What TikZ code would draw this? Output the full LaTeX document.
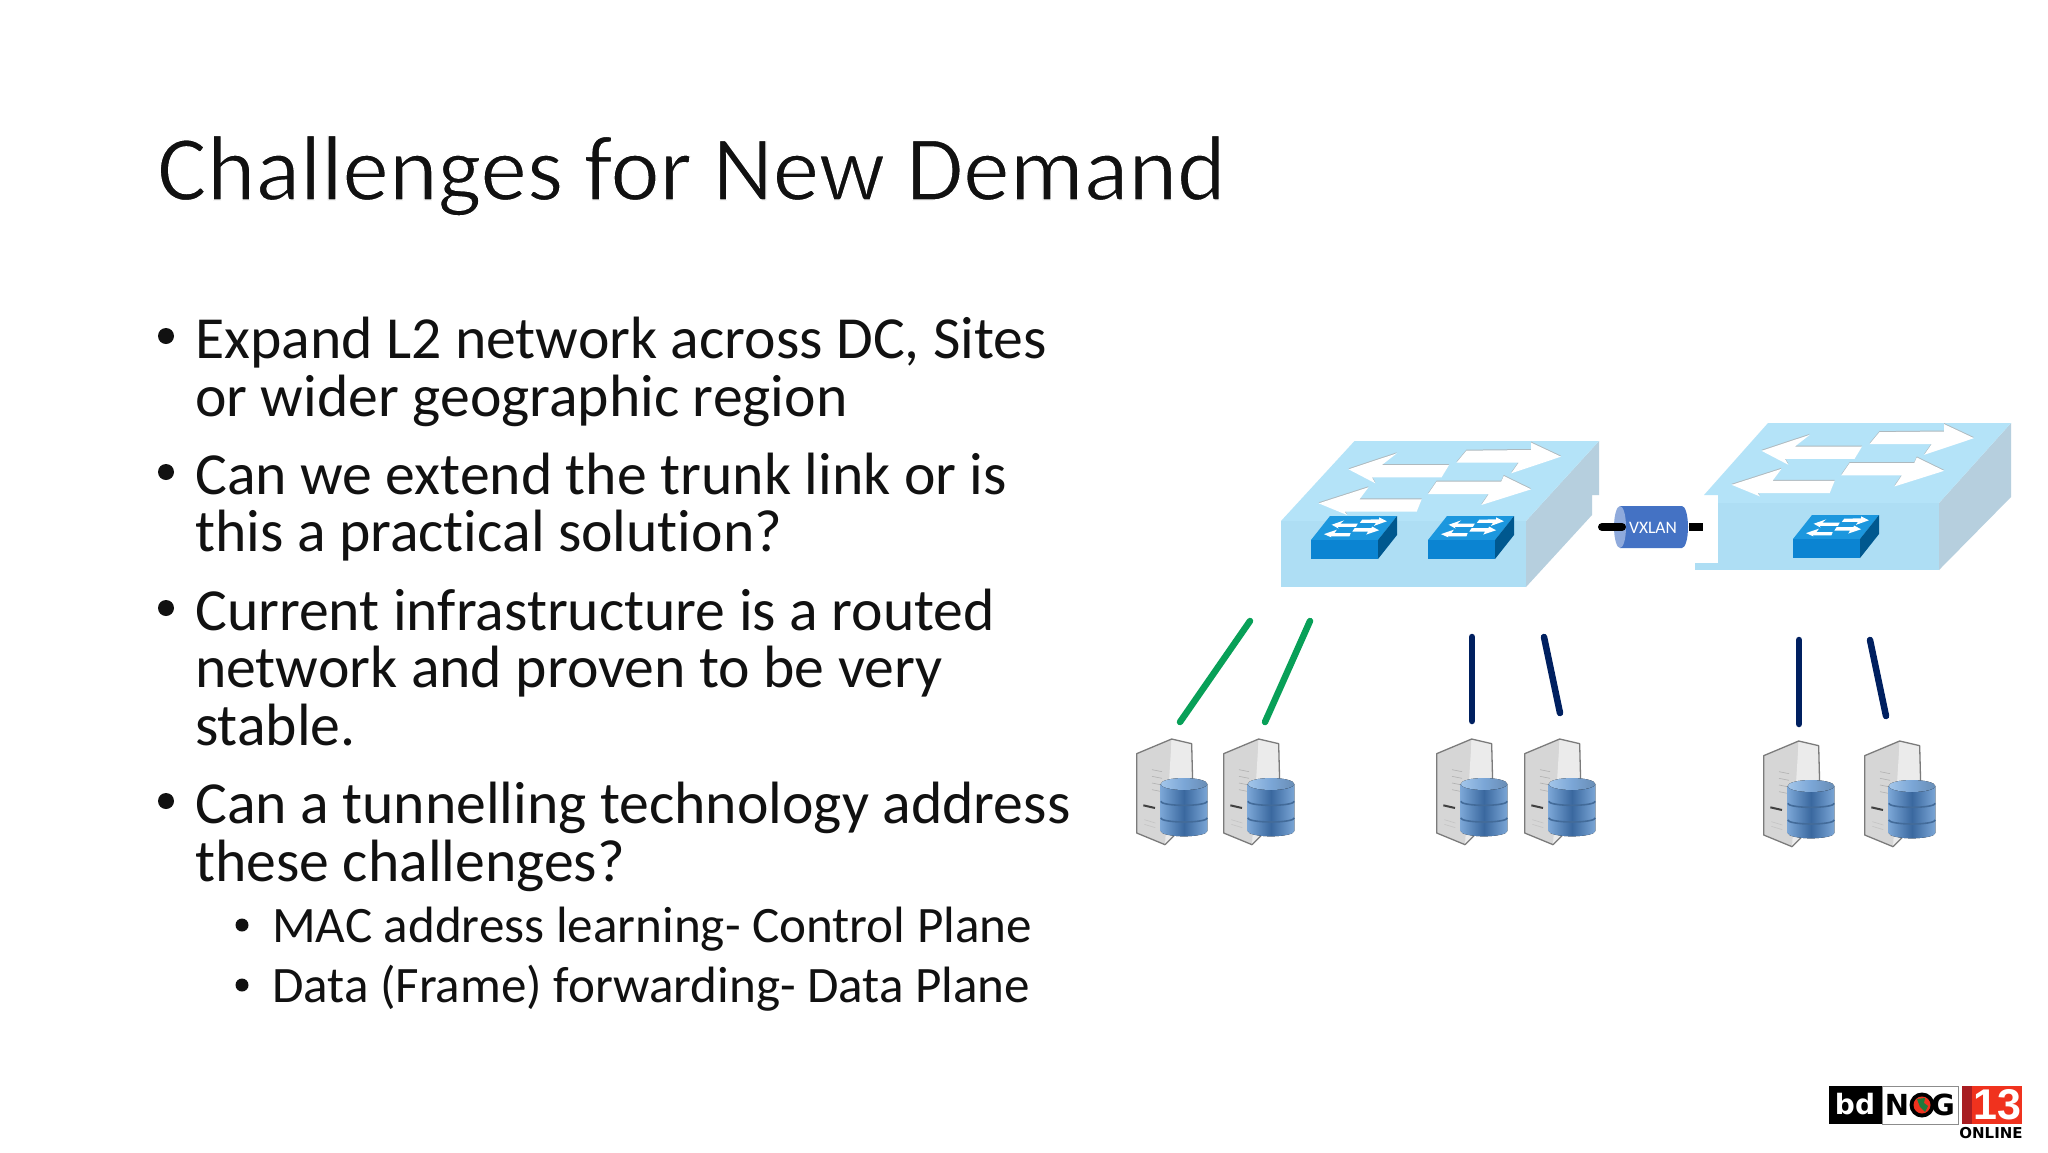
\documentclass[tikz,border=0pt]{standalone}
\usepackage{fontspec}
\setmainfont{Carlito}[RawFeature={-liga}]
\newfontfamily\logofont{DejaVu Sans}
\newfontfamily\numfont{Liberation Sans}
\usetikzlibrary{calc}
\definecolor{swtop}{HTML}{B4E3F8}
\definecolor{swfront}{HTML}{AEDEF4}
\definecolor{swside}{HTML}{B6CFDE}
\definecolor{arrowedge}{HTML}{AEB9BE}
\definecolor{minifront}{HTML}{0B84D2}
\definecolor{minitop}{HTML}{1C97DE}
\definecolor{miniside}{HTML}{00588F}
\definecolor{linkgreen}{HTML}{08A058}
\definecolor{linknavy}{HTML}{002060}
\definecolor{tunnel}{HTML}{4472C4}
\definecolor{tunnelend}{HTML}{8FAADC}
\definecolor{dbdark}{HTML}{3A689F}
\definecolor{dbmid}{HTML}{7BA6D6}
\definecolor{dblight}{HTML}{A3C6EA}
\definecolor{dbline}{HTML}{2E5A8E}
\definecolor{srvedge}{HTML}{7B7B7B}
\definecolor{srvfront}{HTML}{D6D6D6}
\definecolor{srvside}{HTML}{EBEBEB}
\definecolor{logored}{HTML}{F0321E}
\definecolor{logodark}{HTML}{A81E22}
\definecolor{logogreen}{HTML}{1E7A3C}
\definecolor{txt}{HTML}{111111}
\tikzset{
  line/.style={inner sep=0pt,anchor=base west,text=txt,font=\fontsize{59.7}{60}\selectfont},
  subline/.style={inner sep=0pt,anchor=base west,text=txt,font=\fontsize{51.1}{52}\selectfont},
  bul/.style={fill=txt,circle,inner sep=0pt,minimum size=16pt},
  subbul/.style={fill=txt,circle,inner sep=0pt,minimum size=13pt},
  link/.style={line width=6.5pt,line cap=round},
  server/.pic={
    \begin{scope}[x=0.3333pt,y=-0.3333pt]
      \fill[srvfront] (2,44) -- (107,0) -- (100,300) -- (87,317) -- (2,282) -- cycle;
      \fill[srvside] (107,0) -- (167,14) -- (170,180) -- (117,287) -- (87,317) -- cycle;
      \foreach \yy in {92,112,132,152}{\draw[srvedge!60,line width=.6pt] ({48},{\yy}) -- ({78},{\yy+6});}
      \draw[black!75,line width=2pt] (22,199) -- (57,207);
      \foreach \yy in {242,256}{\draw[srvedge!45,line width=.6pt] ({25},{\yy}) -- ({58},{\yy+10});}
      \draw[srvedge,line width=1.3pt,line join=round] (170,130) -- (167,14) -- (107,0) -- (2,44) -- (2,282) -- (87,317) -- (117,287);
      \fill[left color=dbmid,right color=dbmid,middle color=dbdark]
        (74,135) -- (74,276) arc[start angle=180,end angle=0,x radius=70,y radius=16] -- (214,135) -- cycle;
      \foreach \yy in {187,237}{\draw[dbline!90,line width=1.6pt] (74,\yy) arc[start angle=180,end angle=0,x radius=70,y radius=12];}
      \fill[left color=dblight,right color=dbmid!85!black,middle color=dbmid] (144,135) ellipse[x radius=70,y radius=18];
    \end{scope}
  },
}
\newcommand{\upperleftarrow}{(178,208) -- (275,160) -- (245,195) -- (380,195) -- (365,232) -- (225,232) -- (232,250) -- cycle}
\newcommand{\upperrightarrow}{(415,152) -- (545,150) -- (545,128) -- (605,170) -- (505,220) -- (520,188) -- (395,188) -- cycle}
\newcommand{\lowerleftarrow}{(118,310) -- (218,262) -- (200,298) -- (325,298) -- (315,335) -- (170,335) -- (175,345) -- cycle}
\newcommand{\lowerrightarrow}{(355,245) -- (485,245) -- (490,228) -- (545,268) -- (445,315) -- (460,282) -- (338,282) -- cycle}
\newcommand{\fourarrows}{%
  \fill[arrowedge,yshift=1pt] \upperleftarrow;\fill[arrowedge,yshift=1pt] \upperrightarrow;
  \fill[arrowedge,yshift=1pt] \lowerleftarrow;\fill[arrowedge,yshift=1pt] \lowerrightarrow;
  \fill[white] \upperleftarrow;\fill[white] \upperrightarrow;
  \fill[white] \lowerleftarrow;\fill[white] \lowerrightarrow;}
\newcommand{\minisw}[2]{% x, y of the front-left-top corner in px
  \begin{scope}[shift={(#1,#2)}]
    \fill[minitop] (0,0) -- (19,-24) -- (86,-24) -- (67,0) -- cycle;
    \fill[minifront] (0,0) rectangle (67,19);
    \fill[miniside] (67,0) -- (86,-24) -- (86,-5) -- (67,19) -- cycle;
    \begin{scope}[shift={(-2.33,-34.4)},x=0.1293pt,y=-0.092pt]
      \fill[white] \upperleftarrow;\fill[white] \upperrightarrow;
      \fill[white] \lowerleftarrow;\fill[white] \lowerrightarrow;
    \end{scope}
  \end{scope}}
\begin{document}
\begin{tikzpicture}[x=1pt,y=-1pt]
\useasboundingbox (0,0) rectangle (2048,1152);
\fill[white] (0,0) rectangle (2048,1152);

% title and text
\node[inner sep=0pt,anchor=base west,text=txt,font=\fontsize{92.9}{96}\selectfont] (title) at (157,200) {\special{pdf:code 2 Tr 1 1 1 RG 1.3 w}Challenges for New Demand\special{pdf:code 0 Tr}};
\node[bul] (b1) at (166,336) {};
\node[line] (l1) at (195,358) {Expand L2 network across DC, Sites};
\node[line] (l2) at (195,416) {or wider geographic region};
\node[bul] (b2) at (166,472) {};
\node[line] (l3) at (195,494) {Can we extend the trunk link or is};
\node[line] (l4) at (195,551) {this a practical solution?};
\node[bul] (b3) at (166,608) {};
\node[line] (l5) at (195,630) {Current infrastructure is a routed};
\node[line] (l6) at (195,687) {network and proven to be very};
\node[line] (l7) at (195,745) {stable.};
\node[bul] (b4) at (166,801) {};
\node[line] (l8) at (195,823) {Can a tunnelling technology address};
\node[line] (l9) at (195,881) {these challenges?};
\node[subbul] (b5) at (242,925) {};
\node[subline] (l10) at (272,942) {MAC address learning- Control Plane};
\node[subbul] (b6) at (242,985) {};
\node[subline] (l11) at (272,1002) {Data (Frame) forwarding- Data Plane};

% left switch
\fill[swside] (1526,521) -- (1599,441) -- (1599,495) -- (1592,495) -- (1592,515) -- (1526,587) -- cycle;
\fill[swfront] (1281,521) rectangle (1526,587);
\fill[swtop] (1281,521) -- (1354.5,441) -- (1599,441) -- (1526,521) -- cycle;
\begin{scope}[shift={(1260,400)},x=0.4974pt,y=-0.3333pt]
  \fourarrows
\end{scope}
\minisw{1311}{540}
\minisw{1428}{540}

% right switch
\fill[swside] (1939,503) -- (2011,423) -- (2011,497) -- (1939,570) -- cycle;
\fill[swfront] (1718,503) rectangle (1939,570);
\fill[swfront] (1695,563) rectangle (1718,570);
\fill[swtop] (1704,495) -- (1768,423) -- (2011,423) -- (1939,503) -- (1718,503) -- (1718,495) -- cycle;
\begin{scope}[shift={(1673,381.5)},x=0.4974pt,y=-0.3333pt]
  \fourarrows
\end{scope}
\minisw{1793}{539}

% VXLAN tunnel
\coordinate (tl) at (1602,527);
\coordinate (tr) at (1703,527);
\fill[tunnel] (1620,506) -- (1682,506) arc[start angle=-90,end angle=90,x radius=6,y radius=21] -- (1620,548) -- cycle;
\node[inner sep=0pt,text=white,font=\fontsize{17.5}{18}\selectfont] (vx) at (1653,527.5) {VXLAN};
\fill[tunnelend] (1620,527) ellipse[x radius=6,y radius=21];
\draw[line width=8pt,line cap=round] (tl) -- (1622,527);
\draw[line width=8pt] (1689,527) -- (tr);

% links
\coordinate (g1a) at (1250,621); \coordinate (g1b) at (1180,722);
\coordinate (g2a) at (1310,621); \coordinate (g2b) at (1265,722);
\coordinate (n1a) at (1472,637); \coordinate (n1b) at (1472,721);
\coordinate (n2a) at (1544,637); \coordinate (n2b) at (1560,713);
\coordinate (n3a) at (1799,640); \coordinate (n3b) at (1799,724);
\coordinate (n4a) at (1870,640); \coordinate (n4b) at (1886,716);
\draw[link,linkgreen] (g1a) -- (g1b);
\draw[link,linkgreen] (g2a) -- (g2b);
\draw[link,linknavy] (n1a) -- (n1b);
\draw[link,linknavy] (n2a) -- (n2b);
\draw[link,linknavy] (n3a) -- (n3b);
\draw[link,linknavy] (n4a) -- (n4b);

% servers
\pic at (1136,739) {server};
\pic at (1223,739) {server};
\pic at (1436,739) {server};
\pic at (1524,739) {server};
\pic at (1763,741) {server};
\pic at (1864,741) {server};

% logo
\fill[black] (1829,1086) rectangle (1882,1124);
\draw[black!45,line width=1pt,fill=white] (1882,1086) rectangle (1958,1124);
\fill[logored] (1962,1086) rectangle (2022,1124);
\fill[logodark] (1962,1086) rectangle (1972,1124);
\node[inner sep=0pt,text=white,font=\logofont\bfseries\fontsize{28}{30}\selectfont] (bd) at (1855,1104) {bd};
\node[inner sep=0pt,font=\logofont\bfseries\fontsize{29}{30}\selectfont] (nn) at (1897,1105) {N};
\fill[black] (1922,1105) circle[radius=12.5];
\fill[logored] (1922,1105) circle[radius=8.5];
\fill[logogreen] (1917,1099) -- (1925,1098) -- (1924,1103) -- (1928,1106) -- (1925,1112) -- (1920,1107) -- cycle;
\node[inner sep=0pt,font=\logofont\bfseries\fontsize{29}{30}\selectfont] (gg) at (1943,1105) {G};
\node[inner sep=0pt,text=white,font=\numfont\bfseries\fontsize{43}{44}\selectfont] (num) at (1997,1105) {13};
\node[inner sep=0pt,font=\logofont\bfseries\fontsize{15}{16}\selectfont] (onl) at (1991,1133) {ONLINE};
\end{tikzpicture}
\end{document}
